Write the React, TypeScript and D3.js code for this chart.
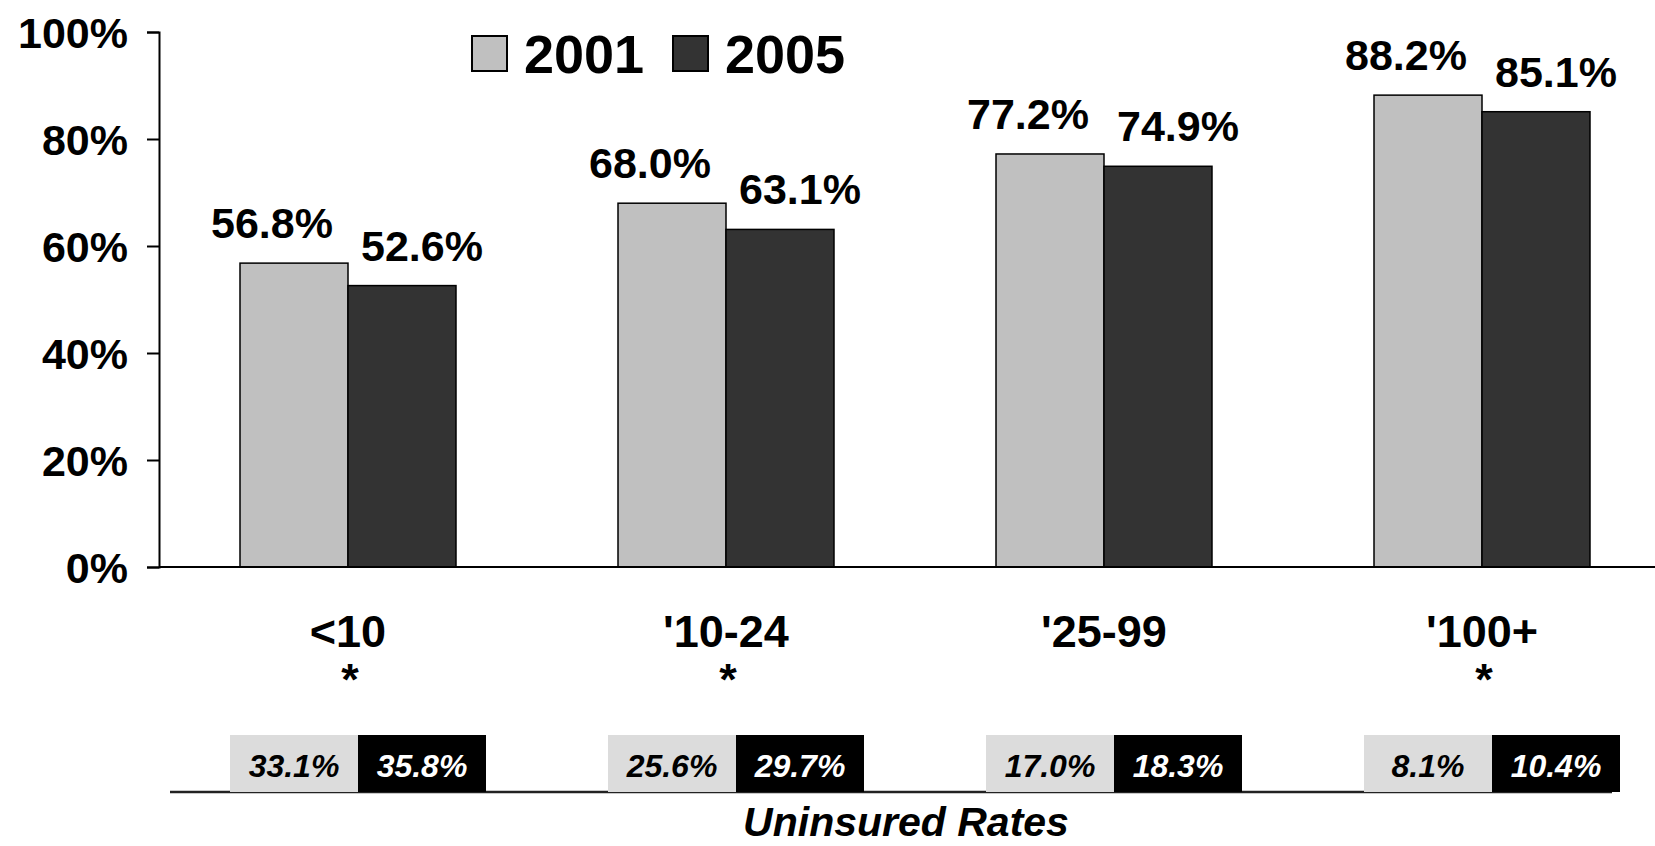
import * as d3 from 'd3';
import { useEffect, useRef } from 'react';

// chart values
const categories = ['<10', "'10-24", "'25-99", "'100+"];
const hasAsterisk = [true, true, false, true];
const seriesNames = ['2001', '2005'];
const coverage2001 = [56.8, 68.0, 77.2, 88.2];
const coverage2005 = [52.6, 63.1, 74.9, 85.1];
const uninsured2001 = [33.1, 25.6, 17.0, 8.1];
const uninsured2005 = [35.8, 29.7, 18.3, 10.4];
const yTicks = [0, 20, 40, 60, 80, 100];

const FONT = '"Liberation Sans", Arial, Helvetica, sans-serif';
const W = 1655,
    H = 846;

const App = () => {
    const svgRef = useRef<SVGSVGElement | null>(null);

    useEffect(() => {
        if (!svgRef.current) return;
        const svg = d3.select(svgRef.current);
        svg.selectAll('*').remove();

        const barColors = ['#c0c0c0', '#333333'];
        const tableColors = ['#dcdcdc', '#000000'];
        const tableText = ['#000', '#fff'];
        const labelShift = [-22, 20];

        const x = d3.scaleBand<string>().domain(categories).range([159, 1671]).paddingInner(0.4286).paddingOuter(0.2143);
        const xs = d3.scaleBand<string>().domain(seriesNames).range([0, x.bandwidth()]);
        const y = d3.scaleLinear().domain([0, 100]).range([567, 32]);

        const rows = categories.map((c, i) => ({
            cat: c,
            star: hasAsterisk[i],
            values: [coverage2001[i], coverage2005[i]],
            uninsured: [uninsured2001[i], uninsured2005[i]],
        }));

        const g = svg.append('g').attr('font-family', FONT).attr('font-weight', 'bold');

        // y axis
        const yAxis = g
            .append('g')
            .attr('transform', 'translate(159,0)')
            .call(
                d3
                    .axisLeft(y)
                    .tickValues(yTicks)
                    .tickSize(12)
                    .tickPadding(19)
                    .tickFormat((d) => d + '%')
            );
        yAxis.select('.domain').attr('stroke', '#000').attr('stroke-width', 2);
        yAxis.selectAll('.tick line').attr('stroke', '#000').attr('stroke-width', 2);
        yAxis
            .selectAll('.tick text')
            .attr('fill', '#000')
            .attr('font-size', 43)
            .attr('font-family', FONT)
            .attr('font-weight', 'bold')
            .attr('dy', '0.36em');

        // bars
        const groups = g
            .selectAll('g.grp')
            .data(rows)
            .join('g')
            .attr('class', 'grp')
            .attr('transform', (d) => `translate(${x(d.cat)},0)`);

        groups
            .selectAll('rect')
            .data((d) => d.values.map((v, k) => ({ v, k })))
            .join('rect')
            .attr('x', (d) => xs(seriesNames[d.k])!)
            .attr('width', xs.bandwidth())
            .attr('y', (d) => y(d.v))
            .attr('height', (d) => y(0) - y(d.v))
            .attr('fill', (d) => barColors[d.k])
            .attr('stroke', '#000')
            .attr('stroke-width', 1.5);

        groups
            .selectAll('text.val')
            .data((d) => d.values.map((v, k) => ({ v, k })))
            .join('text')
            .attr('class', 'val')
            .attr('x', (d) => xs(seriesNames[d.k])! + xs.bandwidth() / 2 + labelShift[d.k])
            .attr('y', (d) => y(d.v) - 25)
            .attr('text-anchor', 'middle')
            .attr('font-size', 43)
            .text((d) => d.v.toFixed(1) + '%');

        // x axis line
        g.append('line')
            .attr('x1', 159)
            .attr('x2', W)
            .attr('y1', y(0))
            .attr('y2', y(0))
            .attr('stroke', '#000')
            .attr('stroke-width', 2);

        // category labels
        groups
            .append('text')
            .attr('x', x.bandwidth() / 2)
            .attr('y', 647)
            .attr('text-anchor', 'middle')
            .attr('font-size', 45)
            .text((d) => d.cat);

        groups
            .filter((d) => d.star)
            .append('text')
            .attr('x', x.bandwidth() / 2 + 2)
            .attr('y', 695)
            .attr('text-anchor', 'middle')
            .attr('font-size', 45)
            .text('*');

        // legend
        const legend = g.append('g').attr('transform', 'translate(472,36)');
        const legendX = [0, 201];
        seriesNames.forEach((s, k) => {
            legend
                .append('rect')
                .attr('x', legendX[k])
                .attr('y', 0)
                .attr('width', 35)
                .attr('height', 35)
                .attr('fill', barColors[k])
                .attr('stroke', '#000')
                .attr('stroke-width', 2);
            legend
                .append('text')
                .attr('x', legendX[k] + 52)
                .attr('y', 37)
                .attr('font-size', 54)
                .text(s);
        });

        // uninsured table
        const tableTop = 735,
            tableBottom = 792,
            boxW = 128;
        g.append('line')
            .attr('x1', 170)
            .attr('x2', 1612)
            .attr('y1', tableBottom)
            .attr('y2', tableBottom)
            .attr('stroke', '#222')
            .attr('stroke-width', 2.5);

        const cells = g
            .selectAll('g.cell')
            .data(rows.flatMap((r) => r.uninsured.map((v, k) => ({ cat: r.cat, v, k }))))
            .join('g')
            .attr('class', 'cell')
            .attr('transform', (d) => `translate(${x(d.cat)! + x.bandwidth() / 2 + 10 + (d.k - 1) * boxW},${tableTop})`);

        cells
            .append('rect')
            .attr('width', boxW)
            .attr('height', tableBottom - tableTop)
            .attr('fill', (d) => tableColors[d.k]);

        cells
            .append('text')
            .attr('x', boxW / 2)
            .attr('y', 42)
            .attr('text-anchor', 'middle')
            .attr('font-size', 32)
            .attr('font-style', 'italic')
            .attr('fill', (d) => tableText[d.k])
            .text((d) => d.v.toFixed(1) + '%');

        g.append('text')
            .attr('x', 906)
            .attr('y', 836)
            .attr('text-anchor', 'middle')
            .attr('font-size', 41)
            .attr('font-style', 'italic')
            .text('Uninsured Rates');
    }, []);

    return (
        <div style={{ position: 'absolute', left: 0, top: 0, width: W, height: H, overflow: 'hidden', background: '#fff' }}>
            <svg ref={svgRef} width={W} height={H} style={{ display: 'block' }} />
        </div>
    );
};

export default App;
